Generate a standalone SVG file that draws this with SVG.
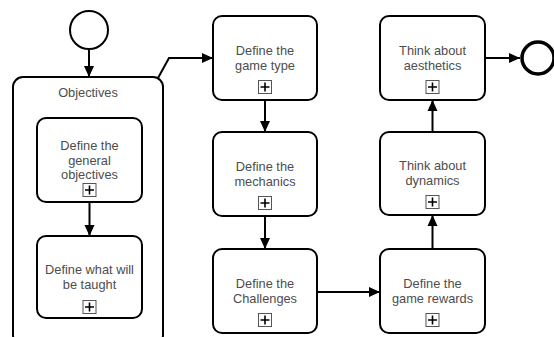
<svg xmlns="http://www.w3.org/2000/svg" width="554" height="337" viewBox="0 0 554 337">
<style>
.box{fill:#fff;stroke:#000;stroke-width:2}
.t{font-family:"Liberation Sans",Arial,sans-serif;font-size:12.8px;fill:#4d4d4d;text-anchor:middle}
.pm{fill:#fff;stroke:#555;stroke-width:1}
.pl{stroke:#000;stroke-width:1.6}
.c{fill:none;stroke:#000;stroke-width:2}
</style>
<defs>
<marker id="ah" markerUnits="userSpaceOnUse" markerWidth="12" markerHeight="12" refX="11" refY="6" orient="auto">
<path d="M0,1 L11,6 L0,11 Z" fill="#000"/>
</marker>
<g id="plus">
<rect class="pm" x="-6.5" y="-6.5" width="13" height="13"/>
<path class="pl" d="M-4.5,0 H4.5 M0,-4.5 V4.5"/>
</g>
</defs>
<g id="start"><circle cx="89" cy="30" r="19" fill="#fff" stroke="#000" stroke-width="2"/></g>
<g id="objectives">
<rect class="box" x="13" y="77" width="150" height="268" rx="10"/>
<text class="t" x="88" y="97">Objectives</text>
</g>
<g id="obj1">
<rect class="box" x="37" y="118" width="105" height="84" rx="9"/>
<text class="t" x="89.5" y="150">Define the</text>
<text class="t" x="89.5" y="165">general</text>
<text class="t" x="89.5" y="179">objectives</text>
<use href="#plus" x="89.5" y="190"/>
</g>
<g id="obj2">
<rect class="box" x="37" y="236" width="105" height="82" rx="9"/>
<text class="t" x="89.5" y="274">Define what will</text>
<text class="t" x="89.5" y="289">be taught</text>
<use href="#plus" x="89.5" y="307"/>
</g>
<g id="gametype">
<rect class="box" x="213" y="16" width="104" height="84" rx="9"/>
<text class="t" x="265" y="55">Define the</text>
<text class="t" x="265" y="70">game type</text>
<use href="#plus" x="265" y="87"/>
</g>
<g id="mechanics">
<rect class="box" x="213" y="132" width="104" height="84" rx="9"/>
<text class="t" x="265" y="171">Define the</text>
<text class="t" x="265" y="186">mechanics</text>
<use href="#plus" x="265" y="203"/>
</g>
<g id="challenges">
<rect class="box" x="213" y="249" width="104" height="84" rx="9"/>
<text class="t" x="265" y="288">Define the</text>
<text class="t" x="265" y="303">Challenges</text>
<use href="#plus" x="265" y="320"/>
</g>
<g id="rewards">
<rect class="box" x="380" y="249" width="105" height="84" rx="9"/>
<text class="t" x="432.5" y="288">Define the</text>
<text class="t" x="432.5" y="303">game rewards</text>
<use href="#plus" x="432.5" y="320"/>
</g>
<g id="dynamics">
<rect class="box" x="380" y="132" width="105" height="83" rx="9"/>
<text class="t" x="432.5" y="170">Think about</text>
<text class="t" x="432.5" y="185">dynamics</text>
<use href="#plus" x="432.5" y="202"/>
</g>
<g id="aesthetics">
<rect class="box" x="380" y="16" width="105" height="84" rx="9"/>
<text class="t" x="432.5" y="55">Think about</text>
<text class="t" x="432.5" y="70">aesthetics</text>
<use href="#plus" x="432.5" y="87"/>
</g>
<g id="end"><circle cx="538" cy="58" r="16" fill="#fff" stroke="#000" stroke-width="3.5"/></g>
<g id="connectors">
<path class="c" d="M89,49 V77" marker-end="url(#ah)"/>
<path class="c" d="M89.5,202 V236" marker-end="url(#ah)"/>
<path class="c" d="M158,78 L169,58 H213" marker-end="url(#ah)"/>
<path class="c" d="M265,100 V132" marker-end="url(#ah)"/>
<path class="c" d="M265,216 V249" marker-end="url(#ah)"/>
<path class="c" d="M317,292 H380" marker-end="url(#ah)"/>
<path class="c" d="M432.5,249 V215" marker-end="url(#ah)"/>
<path class="c" d="M432.5,132 V100" marker-end="url(#ah)"/>
<path class="c" d="M485,58 H520" marker-end="url(#ah)"/>
</g>
</svg>
